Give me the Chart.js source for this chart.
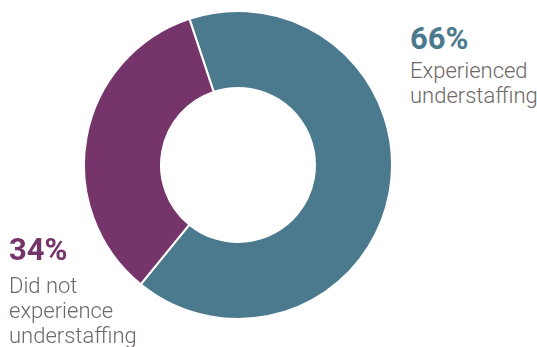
<!DOCTYPE html>
<html>
<head>
<meta charset="utf-8">
<script src="https://cdn.jsdelivr.net/npm/chart.js@4.4.0/dist/chart.umd.min.js"></script>
<style>
  body { margin: 0; background: #fff; width: 537px; height: 347px; overflow: hidden; position: relative; font-family: Roboto, sans-serif; }
  #wrap { position: absolute; left: 83px; top: 10px; width: 310px; height: 310px; }
  .lbl { position: absolute; white-space: nowrap; }
  .pct { font-weight: 700; font-size: 31px; line-height: 34px; }
  .txt { font-weight: 300; font-size: 22px; line-height: 25px; color: #6e6866; }
</style>
</head>
<body>
<div id="wrap"><canvas id="donutChart" width="310" height="310"></canvas></div>
<div class="lbl" id="lblA" style="left:410px; top:22px;"></div>
<div class="lbl" id="lblB" style="left:9px; top:233px;"></div>
<script>
// Share of respondents
const categories = ['Experienced understaffing', 'Did not experience understaffing'];
const values = [66, 34];
const labelLines = [['Experienced', 'understaffing'], ['Did not', 'experience', 'understaffing']];
const colors = ['#4b7a8f', '#76356a'];
const textGap = [2, 6];

function fillLabel(id, i) {
    const el = document.getElementById(id);
    el.innerHTML = '<div class="pct" style="color:' + colors[i] + '">' + values[i] + '%</div>' +
        '<div class="txt" style="margin-top:' + textGap[i] + 'px">' + labelLines[i].join('<br>') + '</div>';
}
fillLabel('lblA', 0);
fillLabel('lblB', 1);

const ctx = document.getElementById('donutChart').getContext('2d');
new Chart(ctx, {
    type: 'doughnut',
    data: {
        labels: categories,
        datasets: [{
            data: values,
            backgroundColor: colors,
            borderColor: '#ffffff',
            borderWidth: 2
        }]
    },
    options: {
        responsive: false,
        animation: false,
        cutout: '50%',
        rotation: -18.4,
        plugins: {
            legend: { display: false },
            tooltip: { enabled: false }
        }
    }
});
</script>
</body>
</html>
